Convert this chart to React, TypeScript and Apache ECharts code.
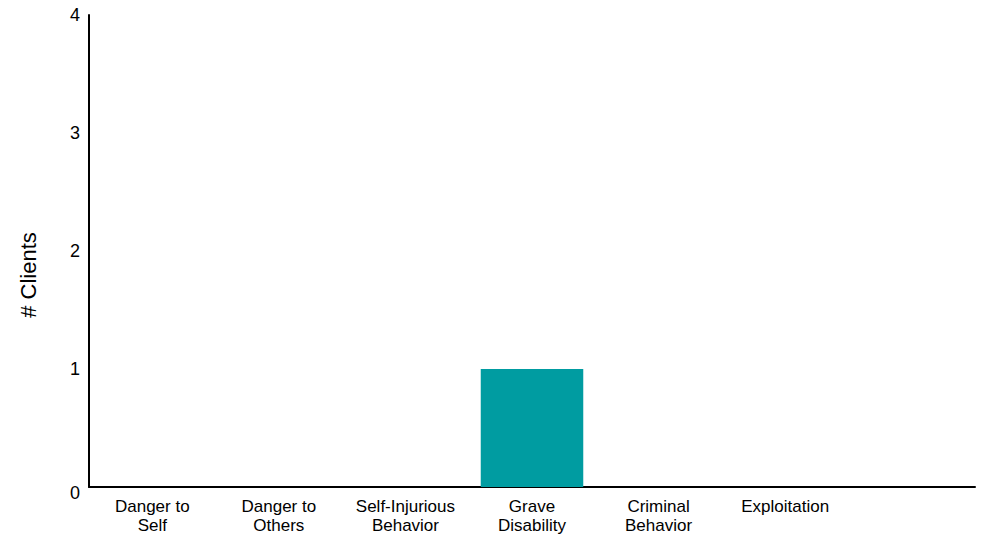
import React, { useEffect, useRef } from "react";
import * as echarts from "echarts";

const categories = [
  "Danger to\nSelf",
  "Danger to\nOthers",
  "Self-Injurious\nBehavior",
  "Grave\nDisability",
  "Criminal\nBehavior",
  "Exploitation",
  "",
];
const clients = [0, 0, 0, 1, 0, 0, 0];
const yTicks = { min: 0, max: 4, interval: 1 };
const yTitle = "# Clients";

const FONT = "Liberation Sans, Arial, sans-serif";

export default function App() {
  const ref = useRef<HTMLDivElement>(null);
  useEffect(() => {
    if (!ref.current) return;
    const chart = echarts.init(ref.current, null, { renderer: "svg" });
    chart.setOption({
      animation: false,
      grid: { left: 89, right: 7, top: 15, bottom: 47, containLabel: false },
      xAxis: {
        type: "category",
        data: categories,
        axisLine: { lineStyle: { color: "#000", width: 2 } },
        axisTick: { show: false },
        axisLabel: {
          color: "#000",
          fontFamily: FONT,
          fontSize: 17,
          lineHeight: 19,
          margin: 10,
          interval: 0,
        },
      },
      yAxis: {
        type: "value",
        min: yTicks.min,
        max: yTicks.max,
        interval: yTicks.interval,
        splitLine: { show: false },
        axisLine: { show: true, lineStyle: { color: "#000", width: 2 } },
        axisTick: { show: false },
        axisLabel: {
          color: "#000",
          fontFamily: FONT,
          fontSize: 18,
          margin: 9,
          formatter: (v: number) => (v === 0 ? "{z|0}" : String(v)),
          rich: { z: { fontFamily: FONT, fontSize: 18, color: "#000", padding: [12, 0, 0, 0] } },
        },
      },
      graphic: [
        {
          type: "text",
          x: 28,
          y: 275,
          rotation: Math.PI / 2,
          style: {
            text: yTitle,
            fill: "#000",
            fontFamily: FONT,
            fontSize: 22,
            align: "center",
            verticalAlign: "middle",
          },
        },
      ],
      series: [
        {
          type: "bar",
          data: clients,
          barCategoryGap: "19%",
          itemStyle: { color: "#009ca1" },
        },
      ],
    });
    return () => chart.dispose();
  }, []);
  return <div ref={ref} style={{ width: 982, height: 535, position: "absolute", left: 0, top: 0 }} />;
}
